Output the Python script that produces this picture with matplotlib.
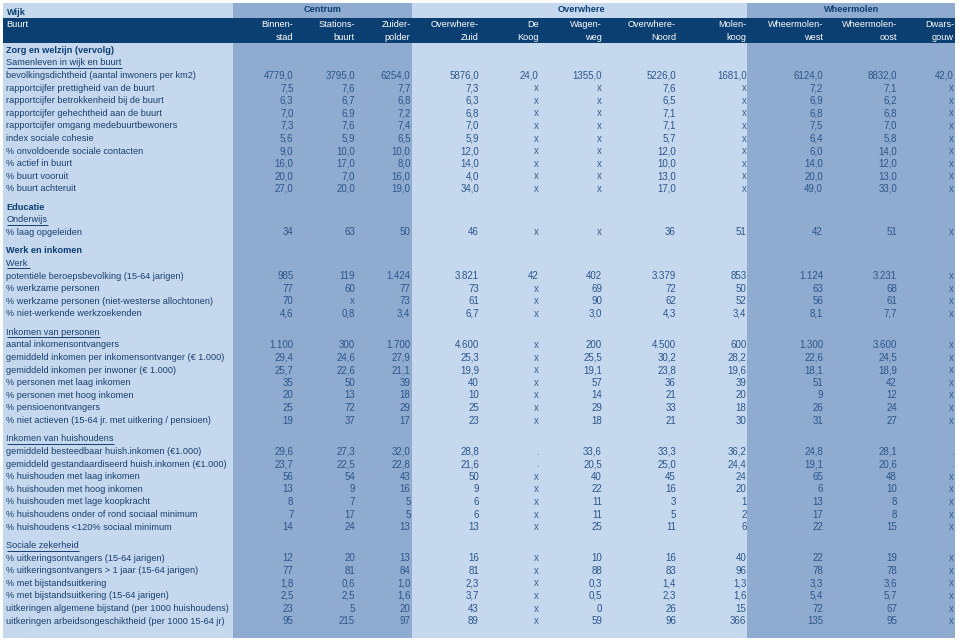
import matplotlib
matplotlib.use("Agg")
import matplotlib.pyplot as plt
from matplotlib.patches import Rectangle

plt.rcParams['font.family'] = ['Liberation Sans', 'DejaVu Sans']

# ---------------- data ----------------
wijken = ["Centrum", "Overwhere", "Wheermolen"]
buurten_line1 = ["Binnen-", "Stations-", "Zuider-", "Overwhere-", "De", "Wagen-",
                 "Overwhere-", "Molen-", "Wheermolen-", "Wheermolen-", "Dwars-"]
buurten_line2 = ["stad", "buurt", "polder", "Zuid", "Koog", "weg",
                 "Noord", "koog", "west", "oost", "gouw"]

samenleven_labels = [
    "bevolkingsdichtheid (aantal inwoners per km2)",
    "rapportcijfer prettigheid van de buurt",
    "rapportcijfer betrokkenheid bij de buurt",
    "rapportcijfer gehechtheid aan de buurt",
    "rapportcijfer omgang medebuurtbewoners",
    "index sociale cohesie",
    "% onvoldoende sociale contacten",
    "% actief in buurt",
    "% buurt vooruit",
    "% buurt achteruit",
]
samenleven_values = [
    ["4779,0", "3795,0", "6254,0", "5876,0", "24,0", "1355,0", "5226,0", "1681,0", "6124,0", "8832,0", "42,0"],
    ["7,5", "7,6", "7,7", "7,3", "x", "x", "7,6", "x", "7,2", "7,1", "x"],
    ["6,3", "6,7", "6,8", "6,3", "x", "x", "6,5", "x", "6,9", "6,2", "x"],
    ["7,0", "6,9", "7,2", "6,8", "x", "x", "7,1", "x", "6,8", "6,8", "x"],
    ["7,3", "7,6", "7,4", "7,0", "x", "x", "7,1", "x", "7,5", "7,0", "x"],
    ["5,6", "5,9", "6,5", "5,9", "x", "x", "5,7", "x", "6,4", "5,8", "x"],
    ["9,0", "10,0", "10,0", "12,0", "x", "x", "12,0", "x", "6,0", "14,0", "x"],
    ["16,0", "17,0", "8,0", "14,0", "x", "x", "10,0", "x", "14,0", "12,0", "x"],
    ["20,0", "7,0", "16,0", "4,0", "x", "x", "13,0", "x", "20,0", "13,0", "x"],
    ["27,0", "20,0", "19,0", "34,0", "x", "x", "17,0", "x", "49,0", "33,0", "x"],
]

onderwijs_labels = ["% laag opgeleiden"]
onderwijs_values = [
    ["34", "63", "50", "46", "x", "x", "36", "51", "42", "51", "x"],
]

werk_labels = [
    "potentiële beroepsbevolking (15-64 jarigen)",
    "% werkzame personen",
    "% werkzame personen (niet-westerse allochtonen)",
    "% niet-werkende werkzoekenden",
]
werk_values = [
    ["985", "119", "1.424", "3.821", "42", "402", "3.379", "853", "1.124", "3.231", "x"],
    ["77", "60", "77", "73", "x", "69", "72", "50", "63", "68", "x"],
    ["70", "x", "73", "61", "x", "90", "62", "52", "56", "61", "x"],
    ["4,6", "0,8", "3,4", "6,7", "x", "3,0", "4,3", "3,4", "8,1", "7,7", "x"],
]

personen_labels = [
    "aantal inkomensontvangers",
    "gemiddeld inkomen per inkomensontvanger (€ 1.000)",
    "gemiddeld inkomen per inwoner (€ 1.000)",
    "% personen met laag inkomen",
    "% personen met hoog inkomen",
    "% pensioenontvangers",
    "% niet actieven (15-64 jr. met uitkering / pensioen)",
]
personen_values = [
    ["1.100", "300", "1.700", "4.600", "x", "200", "4.500", "600", "1.300", "3.600", "x"],
    ["29,4", "24,6", "27,9", "25,3", "x", "25,5", "30,2", "28,2", "22,6", "24,5", "x"],
    ["25,7", "22,6", "21,1", "19,9", "x", "19,1", "23,8", "19,6", "18,1", "18,9", "x"],
    ["35", "50", "39", "40", "x", "57", "36", "39", "51", "42", "x"],
    ["20", "13", "18", "10", "x", "14", "21", "20", "9", "12", "x"],
    ["25", "72", "29", "25", "x", "29", "33", "18", "26", "24", "x"],
    ["19", "37", "17", "23", "x", "18", "21", "30", "31", "27", "x"],
]

huishoudens_labels = [
    "gemiddeld besteedbaar huish.inkomen (€1.000)",
    "gemiddeld gestandaardiseerd huish.inkomen (€1.000)",
    "% huishouden met laag inkomen",
    "% huishouden met hoog inkomen",
    "% huishouden met lage koopkracht",
    "% huishoudens onder of rond sociaal minimum",
    "% huishoudens <120% sociaal minimum",
]
huishoudens_values = [
    ["29,6", "27,3", "32,0", "28,8", ".", "33,6", "33,3", "36,2", "24,8", "28,1", "."],
    ["23,7", "22,5", "22,8", "21,6", ".", "20,5", "25,0", "24,4", "19,1", "20,6", "."],
    ["56", "54", "43", "50", "x", "40", "45", "24", "65", "48", "x"],
    ["13", "9", "16", "9", "x", "22", "16", "20", "6", "10", "x"],
    ["8", "7", "5", "6", "x", "11", "3", "1", "13", "8", "x"],
    ["7", "17", "5", "6", "x", "11", "5", "2", "17", "8", "x"],
    ["14", "24", "13", "13", "x", "25", "11", "6", "22", "15", "x"],
]

zekerheid_labels = [
    "% uitkeringsontvangers (15-64 jarigen)",
    "% uitkeringsontvangers > 1 jaar (15-64 jarigen)",
    "% met bijstandsuitkering",
    "% met bijstandsuitkering (15-64 jarigen)",
    "uitkeringen algemene bijstand (per 1000 huishoudens)",
    "uitkeringen arbeidsongeschiktheid (per 1000 15-64 jr)",
]
zekerheid_values = [
    ["12", "20", "13", "16", "x", "10", "16", "40", "22", "19", "x"],
    ["77", "81", "84", "81", "x", "88", "83", "96", "78", "78", "x"],
    ["1,8", "0,6", "1,0", "2,3", "x", "0,3", "1,4", "1,3", "3,3", "3,6", "x"],
    ["2,5", "2,5", "1,6", "3,7", "x", "0,5", "2,3", "1,6", "5,4", "5,7", "x"],
    ["23", "5", "20", "43", "x", "0", "26", "15", "72", "67", "x"],
    ["95", "215", "97", "89", "x", "59", "96", "366", "135", "95", "x"],
]

# ---------------- layout / style ----------------
W, H = 959, 643
fig = plt.figure(figsize=(W / 100, H / 100), dpi=100)
ax = fig.add_axes([0, 0, 1, 1])
ax.set_xlim(0, W)
ax.set_ylim(H, 0)
ax.axis("off")

LIGHT = "#c6d8ee"
BLOCK = "#90abd0"
NAVY = "#0b3f72"
LABEL_C = "#173f6e"
NUM_C = "#2a568a"
X_C = "#35628f"
FS = 6.6       # labels and headers
FS_NUM = 7.0   # numbers

col_right = [293.5, 355, 410.5, 479, 538.5, 602, 676, 746.5, 823, 897, 954]
wijk_centers = [323, 581, 852]
blocks = [(233, 412), (747, 955)]

ax.add_patch(Rectangle((3, 2.5), 952, 635.5, color=LIGHT, lw=0, zorder=0))
for x0, x1 in blocks:
    ax.add_patch(Rectangle((x0, 2.5), x1 - x0, 635.5, color=BLOCK, lw=0, zorder=1))
ax.add_patch(Rectangle((3, 18.3), 952, 25, color=NAVY, lw=0, zorder=2))

ax.text(6.5, 12.3, "Wijk", fontsize=FS, fontweight="bold", color=NAVY,
        ha="left", va="center", zorder=3)
for name, cx in zip(wijken, wijk_centers):
    ax.text(cx, 9.5, name, fontsize=FS, fontweight="bold", color=NAVY,
            ha="center", va="center", zorder=3)
ax.text(6.5, 24.5, "Buurt", fontsize=FS, color="white", ha="left", va="center", zorder=3)
for l1, l2, xr in zip(buurten_line1, buurten_line2, col_right):
    ax.text(xr, 24.5, l1, fontsize=FS, color="white", ha="right", va="center", zorder=3)
    ax.text(xr, 37.3, l2, fontsize=FS, color="white", ha="right", va="center", zorder=3)

structure = [
    ("section", "Zorg en welzijn (vervolg)"),
    ("sub", "Samenleven in wijk en buurt"),
    ("rows", samenleven_labels, samenleven_values),
    ("gap",),
    ("section", "Educatie"),
    ("sub", "Onderwijs"),
    ("rows", onderwijs_labels, onderwijs_values),
    ("gap",),
    ("section", "Werk en inkomen"),
    ("sub", "Werk "),
    ("rows", werk_labels, werk_values),
    ("gap",),
    ("sub", "Inkomen van personen"),
    ("rows", personen_labels, personen_values),
    ("gap",),
    ("sub", "Inkomen van huishoudens"),
    ("rows", huishoudens_labels, huishoudens_values),
    ("gap",),
    ("sub", "Sociale zekerheid"),
    ("rows", zekerheid_labels, zekerheid_values),
]

STEP = 12.6
GAP = 5.8
y = 50.3
underline_texts = []
for item in structure:
    kind = item[0]
    if kind == "gap":
        y += GAP
    elif kind == "section":
        ax.text(6.5, y, item[1], fontsize=FS, fontweight="bold", color=NAVY,
                ha="left", va="center", zorder=3)
        y += STEP
    elif kind == "sub":
        t = ax.text(6.5, y, item[1], fontsize=FS, color=LABEL_C,
                    ha="left", va="center", zorder=3)
        underline_texts.append((t, y))
        y += STEP
    else:
        labels, values = item[1], item[2]
        for lab, vals in zip(labels, values):
            ax.text(6.5, y, lab, fontsize=FS, color=LABEL_C, ha="left", va="center", zorder=3)
            for v, xr in zip(vals, col_right):
                c = X_C if v in ("x", ".") else NUM_C
                ax.text(xr, y, v, fontsize=FS_NUM, color=c, ha="right", va="center", zorder=3)
            y += STEP

# underlines for sub headers
fig.canvas.draw()
renderer = fig.canvas.get_renderer()
for t, yy in underline_texts:
    bb = t.get_window_extent(renderer=renderer)
    ax.plot([bb.x0, bb.x1], [yy + 5.0, yy + 5.0], color=LABEL_C, lw=0.7, zorder=3,
            solid_capstyle="butt")

fig.savefig("out.png", dpi=100)
